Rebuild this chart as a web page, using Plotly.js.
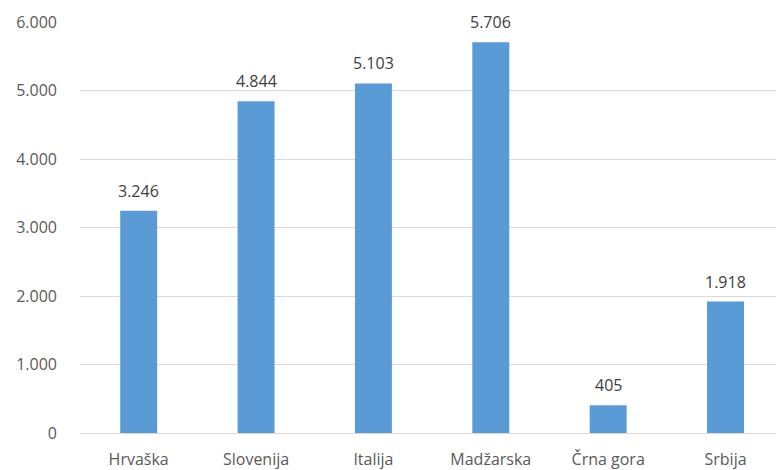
<!DOCTYPE html>
<html>
<head>
<meta charset="utf-8">
<script src="https://cdn.plot.ly/plotly-3.0.1.min.js"></script>
<style>html,body{margin:0;padding:0;background:#fff;}#chart{width:776px;height:470px;}</style>
</head>
<body>
<div id="chart"></div>
<script>
const categories = ["Hrvaška", "Slovenija", "Italija", "Madžarska", "Črna gora", "Srbija"];
const values = [3246, 4844, 5103, 5706, 405, 1918];
const valueLabels = ["3.246", "4.844", "5.103", "5.706", "405", "1.918"];
const yTicks = [0, 1000, 2000, 3000, 4000, 5000, 6000];

const trace = {
  type: 'bar',
  x: categories,
  y: values,
  marker: {color: '#5B9BD5'},
  hoverinfo: 'none'
};

const annotations = categories.map((c, i) => ({
  x: c,
  y: values[i],
  xref: 'x',
  yref: 'y',
  text: valueLabels[i],
  showarrow: false,
  yanchor: 'bottom',
  yshift: 7,
  font: {family: 'Open Sans, sans-serif', size: 16, color: '#404040'}
}));

const layout = {
  width: 776,
  height: 470,
  margin: {l: 80, r: 0, t: 22, b: 37},
  paper_bgcolor: '#ffffff',
  plot_bgcolor: '#ffffff',
  separators: ',.',
  bargap: 0.685,
  showlegend: false,
  font: {family: 'Open Sans, sans-serif', size: 16, color: '#595959'},
  annotations: annotations,
  xaxis: {
    type: 'category',
    range: [-0.5, 5.43],
    showgrid: false,
    showline: false,
    zeroline: false,
    ticks: '',
    ticklabelstandoff: 15,
    tickfont: {size: 16, color: '#595959'}
  },
  yaxis: {
    range: [0, 6000],
    tickvals: yTicks,
    tickformat: ',d',
    showgrid: true,
    gridcolor: '#D9D9D9',
    gridwidth: 1,
    zeroline: true,
    zerolinecolor: '#D9D9D9',
    zerolinewidth: 1,
    showline: false,
    ticks: '',
    ticklabelstandoff: 22,
    tickfont: {size: 16, color: '#595959'}
  }
};

Plotly.newPlot('chart', [trace], layout, {displayModeBar: false, staticPlot: true});
</script>
</body>
</html>
